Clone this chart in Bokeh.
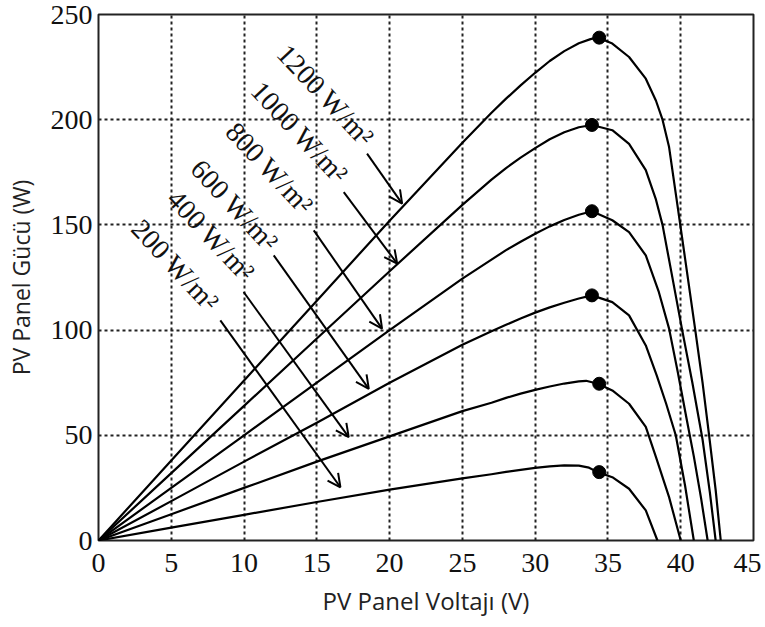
from bokeh.plotting import figure
from bokeh.models import Range1d, FixedTicker, Arrow, OpenHead, ColumnDataSource
from bokeh.embed import file_html
from bokeh.resources import INLINE
from bokeh.core.properties import value

# ---- data ----
x_ticks = [0, 5, 10, 15, 20, 25, 30, 35, 40, 45]
y_ticks = [0, 50, 100, 150, 200, 250]

v_1200 = [0, 5, 10, 15, 20, 25, 27, 28, 29, 30, 31, 32, 33, 33.8, 34.3, 35.3, 36.45, 37.6, 38.3, 38.75, 39.2, 39.7, 40.3, 41.0, 41.5, 41.95, 42.4, 42.75]
p_1200 = [0, 38, 76, 114, 152, 189, 203.3, 210, 216.3, 222.3, 227.9, 232.6, 236.3, 238.3, 239.1, 236.2, 229.8, 219.5, 209, 200, 187, 163, 134, 100, 75, 50, 24, 0]

v_1000 = [0, 5, 10, 15, 20, 25, 27, 28, 29, 30, 31, 32, 33, 33.9, 35.3, 36.45, 37.6, 38.3, 38.75, 39.4, 40.1, 40.8, 41.5, 42.0, 42.4]
p_1000 = [0, 32, 64, 96, 128, 159.5, 171.5, 177, 182, 186.5, 190.7, 194, 196.4, 197.5, 195, 188.5, 176, 162, 150, 126, 100, 75, 48, 23, 0]

v_800 = [0, 5, 10, 15, 20, 25, 27, 28, 29, 30, 31, 32, 33, 33.9, 35.3, 36.45, 37.6, 38.5, 39.2, 39.8, 40.4, 40.9, 41.4, 41.85]
p_800 = [0, 25, 50, 75, 100, 124.5, 133.5, 138, 142, 145.8, 149.3, 152.3, 154.8, 156.5, 152.2, 146.6, 135.5, 118, 100.7, 80, 58, 40, 20, 0]

v_600 = [0, 5, 10, 15, 20, 25, 27, 28, 29, 30, 31, 32, 33, 33.9, 35.3, 36.45, 37.6, 38.35, 39.0, 39.66, 40.3, 40.9]
p_600 = [0, 18.7, 37.5, 56, 75, 93, 99.5, 102.5, 105.5, 108.3, 110.8, 113, 115, 116.5, 113.3, 107, 92.7, 78.5, 65, 50, 26, 0]

v_400 = [0, 5, 10, 15, 20, 25, 27, 28, 29, 30, 31, 32, 33, 33.5, 34.3, 35.3, 36.45, 37.6, 38.3, 39.2, 40.0]
p_400 = [0, 12.5, 25, 37.5, 49.5, 61.5, 65.5, 67.8, 69.8, 71.6, 73.2, 74.6, 75.6, 75.9, 74.5, 71.3, 65, 54, 39.6, 20.6, 0]

v_200 = [0, 5, 10, 15, 20, 25, 27, 28, 29, 30, 31, 32, 33, 33.7, 34.3, 35.3, 36.45, 37.6, 38.4]
p_200 = [0, 6.1, 12.2, 18.3, 24.2, 29.5, 31.5, 32.6, 33.6, 34.5, 35.2, 35.7, 35.6, 34.6, 32.5, 30.1, 24.6, 14.3, 0]

mpp_v = [34.4, 33.9, 33.9, 33.9, 34.4, 34.4]
mpp_p = [239, 197.5, 156.5, 116.5, 74.5, 32.5]

labels = ["1200 W/m²", "1000 W/m²", "800 W/m²", "600 W/m²", "400 W/m²", "200 W/m²"]
label_v = [15.61, 13.82, 11.76, 9.35, 7.74, 5.28]
label_p = [211.6, 194.0, 176.9, 159.3, 145.0, 130.8]

arrow_v0 = [18.45, 16.85, 14.79, 12.04, 9.97, 8.37]
arrow_p0 = [183.9, 165.6, 147.4, 135.5, 118.1, 104.6]
arrow_v1 = [20.86, 20.52, 19.48, 18.57, 17.19, 16.62]
arrow_p1 = [160.1, 131.6, 100.7, 72.1, 49.1, 25.3]

# ---- figure ----
p = figure(frame_width=655, frame_height=526,
           x_range=Range1d(0, 45), y_range=Range1d(0, 250),
           output_backend="svg", toolbar_location=None,
           min_border_left=98, min_border_right=8,
           min_border_top=14, min_border_bottom=80,
           background_fill_color="white", border_fill_color="white")

p.outline_line_color = "#222222"
p.outline_line_width = 2

for ax in (p.xaxis[0], p.yaxis[0]):
    ax.axis_line_color = None
    ax.major_tick_line_color = None
    ax.minor_tick_line_color = None
    ax.major_tick_out = 0
    ax.major_tick_in = 0
    ax.major_label_text_font = "Liberation Serif"
    ax.major_label_text_font_size = "28px"
    ax.major_label_text_color = "#111111"
    ax.axis_label_text_font = "Open Sans"
    ax.axis_label_text_font_style = "normal"
    ax.axis_label_text_color = "#222222"

p.xaxis.axis_label_text_font_size = "24px"
p.yaxis.axis_label_text_font_size = "23px"
p.xaxis.ticker = FixedTicker(ticks=x_ticks)
p.yaxis.ticker = FixedTicker(ticks=y_ticks)
p.xaxis.major_label_standoff = 13
p.yaxis.major_label_standoff = 6
p.xaxis.axis_label = "PV Panel Voltajı (V)"
p.yaxis.axis_label = "PV Panel Gücü (W)"
p.xaxis.axis_label_standoff = 9
p.yaxis.axis_label_standoff = 11

for g in (p.xgrid[0], p.ygrid[0]):
    g.grid_line_color = "#222222"
    g.grid_line_width = 2
    g.grid_line_dash = "3 3"

curves = [(v_1200, p_1200), (v_1000, p_1000), (v_800, p_800),
          (v_600, p_600), (v_400, p_400), (v_200, p_200)]
for vv, pp in curves:
    p.line(vv, pp, line_color="black", line_width=2.2, line_join="round")

p.scatter(mpp_v, mpp_p, size=13, color="black")

arrows = ColumnDataSource(dict(x0=arrow_v0, y0=arrow_p0, x1=arrow_v1, y1=arrow_p1))
p.add_layout(Arrow(end=OpenHead(size=13, line_width=2, line_color="black"),
                   x_start="x0", y_start="y0", x_end="x1", y_end="y1",
                   line_width=2, line_color="black", source=arrows))

p.text(x=label_v, y=label_p, text=labels, angle=-47, angle_units="deg",
       text_font=value("Liberation Serif"), text_font_size="28px",
       text_align="center", text_baseline="middle", text_color="#111111")

open("out.html", "w").write(file_html(p, INLINE))
